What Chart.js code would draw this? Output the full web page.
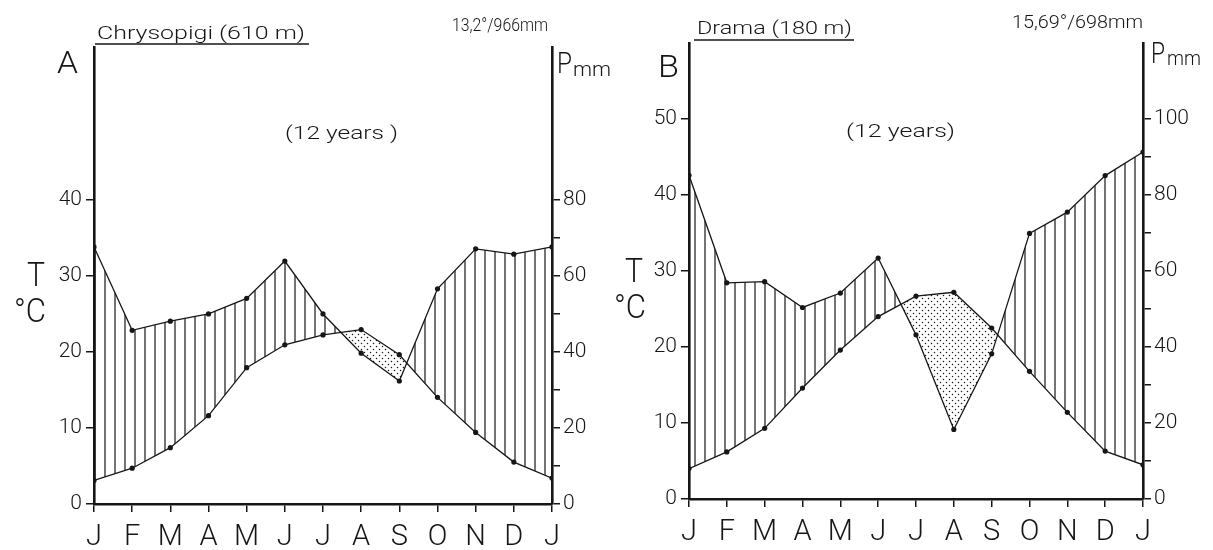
<!DOCTYPE html>
<html><head><meta charset="utf-8">
<script src="https://cdn.jsdelivr.net/npm/chart.js@4"></script>
<style>
html,body{margin:0;padding:0;background:#fff;width:1213px;height:550px;overflow:hidden}
canvas{position:absolute;top:0}
</style></head>
<body>
<canvas id="cA" width="625" height="550" style="left:0"></canvas>
<canvas id="cB" width="613" height="550" style="left:600px"></canvas>
<script>
// ---- data ----
const months = ['J','F','M','A','M','J','J','A','S','O','N','D','J'];
// Panel A: Chrysopigi (610 m) — temperature °C, precipitation mm
const tempA = [3.1, 4.7, 7.4, 11.6, 17.9, 20.9, 22.2, 22.9, 19.6, 14.0, 9.4, 5.5, 3.4];
const precA = [67.5, 45.6, 48.0, 49.9, 54.0, 63.8, 49.9, 39.6, 32.3, 56.5, 67.0, 65.6, 67.5];
// Panel B: Drama (180 m)
const tempB = [4.0, 6.2, 9.3, 14.6, 19.6, 24.0, 26.7, 27.2, 22.5, 16.8, 11.4, 6.3, 4.5];
const precB = [85.2, 56.9, 57.2, 50.4, 54.2, 63.4, 43.2, 18.3, 38.2, 69.9, 75.5, 85.1, 91.3];
// highest labelled ticks
const tempTickMaxA = 40, precTickMaxA = 80;
const tempTickMaxB = 50, precTickMaxB = 100;

const INK = '#161616';
const FAM = "Roboto, 'Liberation Sans', Arial, sans-serif";
const numFont = {family: FAM, size: 21, weight: '300'};
const monFont = {family: FAM, size: 29, weight: '300'};

function makeHatch() {
  const c = document.createElement('canvas'); c.width = 10; c.height = 10;
  const g = c.getContext('2d');
  g.strokeStyle = INK; g.lineWidth = 1.2;
  g.beginPath(); g.moveTo(5, 0); g.lineTo(5, 10); g.stroke();
  return g.createPattern(c, 'repeat');
}
function makeDots() {
  const c = document.createElement('canvas'); c.width = 6; c.height = 6;
  const g = c.getContext('2d');
  g.fillStyle = INK;
  g.beginPath(); g.arc(1.5, 1.5, 0.75, 0, Math.PI * 2); g.fill();
  g.beginPath(); g.arc(4.5, 4.5, 0.75, 0, Math.PI * 2); g.fill();
  return g.createPattern(c, 'repeat');
}

function textPlugin(items, lines) {
  return {
    id: 'texts',
    afterDraw(chart) {
      const ctx = chart.ctx;
      ctx.save();
      ctx.fillStyle = INK; ctx.strokeStyle = INK;
      ctx.textBaseline = 'alphabetic'; ctx.textAlign = 'left';
      for (const it of items) {
        ctx.save();
        ctx.font = (it.wt || '300') + ' ' + it.size + 'px ' + FAM;
        const m = ctx.measureText(it.t).width;
        const sx = it.w ? it.w / m : 1;
        ctx.translate(it.x, it.y); ctx.scale(sx, 1);
        ctx.fillText(it.t, 0, 0);
        ctx.restore();
      }
      for (const l of lines) {
        ctx.lineWidth = l[4];
        ctx.beginPath(); ctx.moveTo(l[0], l[1]); ctx.lineTo(l[2], l[3]); ctx.stroke();
      }
      ctx.restore();
    }
  };
}

function makeChart(canvas, cfg) {
  const W = canvas.width, H = canvas.height;
  const a = cfg.area;
  const pts = arr => arr.map((v, i) => ({x: i, y: v}));
  const tickCol = max => (ctx => (ctx.tick && ctx.tick.value <= max) ? INK : 'rgba(0,0,0,0)');
  return new Chart(canvas, {
    type: 'line',
    data: {datasets: [
      {data: pts(cfg.temp), yAxisID: 'yT', borderColor: INK, borderWidth: 1.3,
       pointRadius: 2.6, pointBackgroundColor: INK, pointBorderWidth: 0, tension: 0, fill: false},
      {data: pts(cfg.prec), yAxisID: 'yP', borderColor: INK, borderWidth: 1.3,
       pointRadius: 2.6, pointBackgroundColor: INK, pointBorderWidth: 0, tension: 0,
       fill: {target: 0, above: makeHatch(), below: makeDots()}}
    ]},
    options: {
      responsive: false, animation: false, devicePixelRatio: 1,
      layout: {padding: {top: a.top, left: 0, right: 0, bottom: 0}},
      plugins: {legend: {display: false}, tooltip: {enabled: false}, title: {display: false}},
      scales: {
        x: {type: 'linear', min: 0, max: 12,
            ticks: {stepSize: 1, autoSkip: false, maxRotation: 0, color: INK, font: monFont, padding: 8,
                    callback: v => months[v]},
            grid: {drawOnChartArea: false, drawTicks: true, tickLength: 8, color: INK, lineWidth: 1.5},
            border: {display: true, color: INK, width: 2.6},
            afterFit: s => { s.height = H - a.bottom; }},
        yT: {position: 'left', min: 0, max: 60,
             ticks: {stepSize: 10, color: INK, font: numFont, padding: 4,
                     callback: v => v <= cfg.tMax ? String(v) : ''},
             grid: {drawOnChartArea: false, drawTicks: true, tickLength: 8, lineWidth: 1.5,
                    tickColor: tickCol(cfg.tMax), color: INK},
             border: {display: true, color: INK, width: 2.6},
             afterFit: s => { s.width = a.left; }},
        yP: {position: 'right', min: 0, max: 120,
             ticks: {stepSize: 10, color: INK, font: numFont, padding: 3,
                     callback: v => (v <= cfg.pMax && v % 20 === 0) ? String(v) : ''},
             grid: {drawOnChartArea: false, drawTicks: true, tickLength: 8, lineWidth: 1.5,
                    tickColor: tickCol(cfg.pMax), color: INK},
             border: {display: true, color: INK, width: 2.6},
             afterFit: s => { s.width = W - a.right; }}
      }
    },
    plugins: [textPlugin(cfg.texts, cfg.lines)]
  });
}

makeChart(document.getElementById('cA'), {
  temp: tempA, prec: precA, tMax: tempTickMaxA, pMax: precTickMaxA,
  area: {left: 94, right: 552, top: 47, bottom: 504},
  texts: [
    {t: 'Chrysopigi (610 m)', x: 97, y: 39, size: 19, w: 208},
    {t: '13,2°/966mm', x: 452, y: 31, size: 18, w: 96},
    {t: 'A', x: 57, y: 73, size: 32, w: 21},
    {t: 'P', x: 557, y: 73, size: 29, w: 15},
    {t: 'mm', x: 573, y: 76, size: 21, w: 38},
    {t: 'T', x: 27, y: 286, size: 33, w: 18},
    {t: '°C', x: 14, y: 322, size: 33, w: 32},
    {t: '(12 years )', x: 285, y: 139, size: 19, w: 113}
  ],
  lines: [[95, 44, 309, 44, 1.6]]
});

makeChart(document.getElementById('cB'), {
  temp: tempB, prec: precB, tMax: tempTickMaxB, pMax: precTickMaxB,
  area: {left: 89, right: 543, top: 43, bottom: 499},
  texts: [
    {t: 'Drama (180 m)', x: 97, y: 34, size: 19, w: 155},
    {t: '15,69°/698mm', x: 412, y: 28, size: 18, w: 131},
    {t: 'B', x: 58, y: 77, size: 32, w: 21},
    {t: 'P', x: 551, y: 63, size: 29, w: 14},
    {t: 'mm', x: 567, y: 65, size: 21, w: 34},
    {t: 'T', x: 25, y: 282, size: 33, w: 18},
    {t: '°C', x: 14, y: 318, size: 33, w: 32},
    {t: '(12 years)', x: 246, y: 137, size: 19, w: 109}
  ],
  lines: [[94, 40, 254, 40, 1.6]]
});
</script>
</body></html>
